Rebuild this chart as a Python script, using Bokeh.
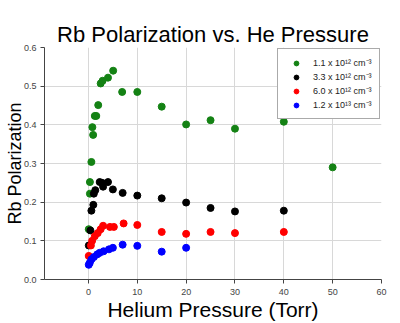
from bokeh.plotting import figure
from bokeh.models import Range1d, FixedTicker, Legend, LegendItem, NumeralTickFormatter
from bokeh.embed import file_html
from bokeh.resources import INLINE

# Data
green_x = [0.06, 0.3, 0.3, 0.6, 0.8, 0.96, 1.3, 1.6, 2.0, 2.5, 2.9, 4.0, 5.06, 6.9, 10, 15, 20, 25, 30, 40, 50]
green_y = [0.13, 0.222, 0.252, 0.304, 0.394, 0.374, 0.423, 0.423, 0.451, 0.507, 0.514, 0.522, 0.54, 0.485, 0.485, 0.447, 0.401, 0.412, 0.39, 0.408, 0.29]

black_x = [0.07, 0.4, 0.6, 1.0, 1.1, 1.4, 2.3, 2.8, 3.0, 4.0, 5.0, 7.0, 10, 15, 20, 25, 30, 40]
black_y = [0.088, 0.127, 0.178, 0.193, 0.222, 0.231, 0.252, 0.25, 0.24, 0.252, 0.233, 0.224, 0.217, 0.21, 0.199, 0.185, 0.176, 0.178]

red_x = [0.06, 0.5, 0.75, 1.3, 1.9, 2.5, 3.0, 4.4, 5.2, 7.2, 10, 15, 20, 25, 30, 40]
red_y = [0.061, 0.088, 0.1, 0.112, 0.12, 0.13, 0.139, 0.136, 0.136, 0.145, 0.141, 0.123, 0.118, 0.123, 0.12, 0.123]

blue_x = [0.06, 0.27, 0.6, 1.1, 1.8, 2.3, 3.1, 4.2, 5.0, 7.0, 10, 15, 20]
blue_y = [0.038, 0.043, 0.052, 0.058, 0.065, 0.069, 0.073, 0.078, 0.082, 0.09, 0.087, 0.072, 0.082]

labels = ["1.1 x 10\u00b9\u00b2 cm\u207b\u00b3", "3.3 x 10\u00b9\u00b2 cm\u207b\u00b3",
          "6.0 x 10\u00b9\u00b2 cm\u207b\u00b3", "1.2 x 10\u00b9\u00b3 cm\u207b\u00b3"]
colors = ["#148214", "#000000", "#ff0000", "#0000ff"]

x_ticks = [0, 10, 20, 30, 40, 50, 60]
y_ticks = [0.0, 0.1, 0.2, 0.3, 0.4, 0.5, 0.6]

FONT = "Liberation Sans"

p = figure(width=400, height=323, output_backend="svg", toolbar_location=None,
           x_range=Range1d(-9, 60), y_range=Range1d(0, 0.6),
           min_border_left=44, min_border_right=19, min_border_top=47, min_border_bottom=41,
           title="Rb Polarization vs. He Pressure")
p.outline_line_color = None
p.background_fill_color = "white"
p.border_fill_color = "white"

p.title.text_font = FONT
p.title.text_font_size = "22px"
p.title.text_font_style = "normal"
p.title.align = "center"
p.title.text_color = "black"
p.title.standoff = 2

for ax in (p.xaxis[0], p.yaxis[0]):
    ax.axis_line_color = "#444444"
    ax.major_tick_line_color = "#444444"
    ax.major_tick_out = 4
    ax.major_tick_in = 0
    ax.minor_tick_line_color = None
    ax.major_label_text_font = FONT
    ax.major_label_text_font_size = "9px"
    ax.major_label_text_color = "#444444"
    ax.axis_label_text_font = FONT
    ax.axis_label_text_font_style = "normal"
    ax.axis_label_text_color = "black"

p.xaxis.ticker = FixedTicker(ticks=x_ticks)
p.yaxis.ticker = FixedTicker(ticks=y_ticks)
p.yaxis.formatter = NumeralTickFormatter(format="0.0")
p.xaxis.axis_label = "Helium Pressure (Torr)"
p.yaxis.axis_label = "Rb Polarization"
p.xaxis.axis_label_text_font_size = "21px"
p.yaxis.axis_label_text_font_size = "18px"
p.xaxis.axis_label_standoff = 0
p.yaxis.axis_label_standoff = -4
p.xaxis.major_label_standoff = 5
p.yaxis.major_label_standoff = 4

p.xgrid.ticker = FixedTicker(ticks=x_ticks)
p.ygrid.ticker = FixedTicker(ticks=y_ticks)
p.grid.grid_line_color = "#d8d8d8"

items = []
for xs, ys, c, lab in [(green_x, green_y, colors[0], labels[0]),
                       (black_x, black_y, colors[1], labels[1]),
                       (red_x, red_y, colors[2], labels[2]),
                       (blue_x, blue_y, colors[3], labels[3])]:
    r = p.scatter(xs, ys, size=7, color=c, line_color=c)
    items.append(LegendItem(label=lab, renderers=[r]))

legend = Legend(items=items, location=(233, 160), margin=0, padding=7,
                glyph_width=22, glyph_height=12, label_height=12, spacing=1,
                label_standoff=6, label_text_font=FONT, label_text_font_size="9px",
                label_text_color="#222222",
                border_line_color="#555555", border_line_width=1.5,
                background_fill_color="white", background_fill_alpha=1)
p.add_layout(legend)

open("out.html", "w").write(file_html(p, INLINE))
